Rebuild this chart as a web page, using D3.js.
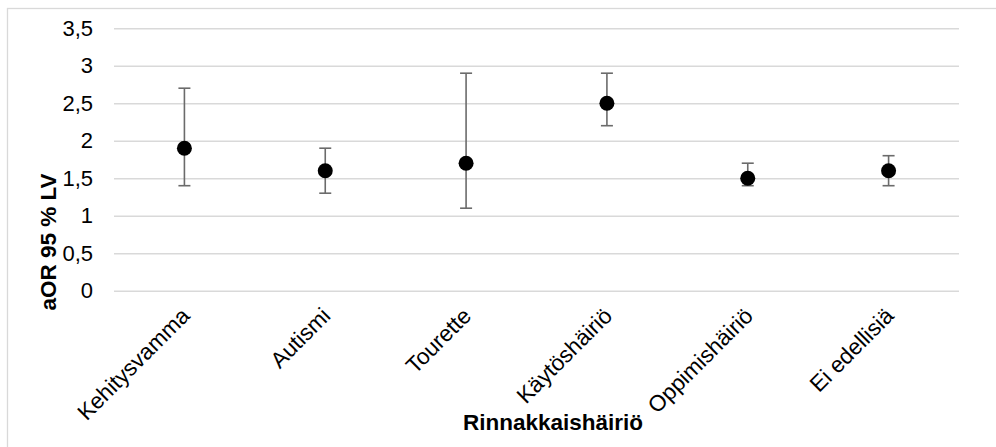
<!DOCTYPE html>
<html>
<head>
<meta charset="utf-8">
<script src="https://cdn.jsdelivr.net/npm/d3@7"></script>
<style>
  html, body { margin: 0; padding: 0; background: #fff; }
  svg { display: block; }
  text { font-family: "Liberation Sans", Arial, sans-serif; fill: #000; }
</style>
</head>
<body>
<svg id="chart" width="996" height="447"></svg>
<script>
// Adjusted odds ratios with 95 % confidence limits per comorbid disorder
const categories = ["Kehitysvamma", "Autismi", "Tourette", "Käytöshäiriö", "Oppimishäiriö", "Ei edellisiä"];
const aor   = [1.9, 1.6, 1.7, 2.5, 1.5, 1.6];
const lower = [1.4, 1.3, 1.1, 2.2, 1.4, 1.4];
const upper = [2.7, 1.9, 2.9, 2.9, 1.7, 1.8];
const yTicks = [0, 0.5, 1, 1.5, 2, 2.5, 3, 3.5];

const yTitle = "aOR 95 % LV";
const xTitle = "Rinnakkaishäiriö";

const svg = d3.select("#chart");
const plot = { left: 114, right: 959, top: 28.2, bottom: 290.7 };

// outer chart frame
svg.append("rect")
  .attr("x", 7.5).attr("y", 8.5)
  .attr("width", 1100).attr("height", 600)
  .attr("fill", "none").attr("stroke", "#d9d9d9").attr("stroke-width", 1.3);

const x = d3.scaleBand().domain(categories).range([plot.left, plot.right]);
const y = d3.scaleLinear().domain([0, 3.5]).range([plot.bottom, plot.top]);

const fmt = v => String(v).replace(".", ",");

// horizontal gridlines + value labels
const yAxis = d3.axisLeft(y).tickValues(yTicks).tickFormat(fmt)
  .tickSize(-(plot.right - plot.left)).tickPadding(21);
const gy = svg.append("g").attr("transform", `translate(${plot.left},0)`).call(yAxis);
gy.select(".domain").remove();
gy.selectAll(".tick line").attr("stroke", "#d9d9d9").attr("stroke-width", 1.5);
gy.selectAll(".tick text").attr("font-size", 22).attr("font-family", "Liberation Sans, Arial, sans-serif").attr("fill", "#000");

// category labels, rotated
const gx = svg.append("g");
gx.selectAll("text").data(categories).join("text")
  .attr("transform", d => `translate(${x(d) + x.bandwidth() / 2 + 1},${plot.bottom + 21}) rotate(-45)`)
  .attr("text-anchor", "end")
  .attr("dy", "0.35em")
  .attr("font-size", 22.5)
  .text(d => d);

// confidence intervals
const rows = categories.map((c, i) => ({ c, v: aor[i], lo: lower[i], hi: upper[i] }));
const capHalf = 6;
const eb = svg.append("g").attr("stroke", "#6b6b6b").attr("stroke-width", 1.6);
rows.forEach(r => {
  const cx = x(r.c) + x.bandwidth() / 2;
  eb.append("line").attr("x1", cx).attr("x2", cx).attr("y1", y(r.lo)).attr("y2", y(r.hi));
  eb.append("line").attr("x1", cx - capHalf).attr("x2", cx + capHalf).attr("y1", y(r.lo)).attr("y2", y(r.lo));
  eb.append("line").attr("x1", cx - capHalf).attr("x2", cx + capHalf).attr("y1", y(r.hi)).attr("y2", y(r.hi));
});

// point estimates
svg.append("g").selectAll("circle").data(rows).join("circle")
  .attr("cx", d => x(d.c) + x.bandwidth() / 2)
  .attr("cy", d => y(d.v))
  .attr("r", 7.5)
  .attr("fill", "#000");

// axis titles
svg.append("text")
  .attr("transform", `translate(56,242) rotate(-90)`)
  .attr("text-anchor", "middle")
  .attr("font-size", 22.5).attr("font-weight", "bold")
  .text(yTitle);

svg.append("text")
  .attr("x", 553).attr("y", 430)
  .attr("text-anchor", "middle")
  .attr("font-size", 22.5).attr("font-weight", "bold")
  .text(xTitle);
</script>
</body>
</html>
